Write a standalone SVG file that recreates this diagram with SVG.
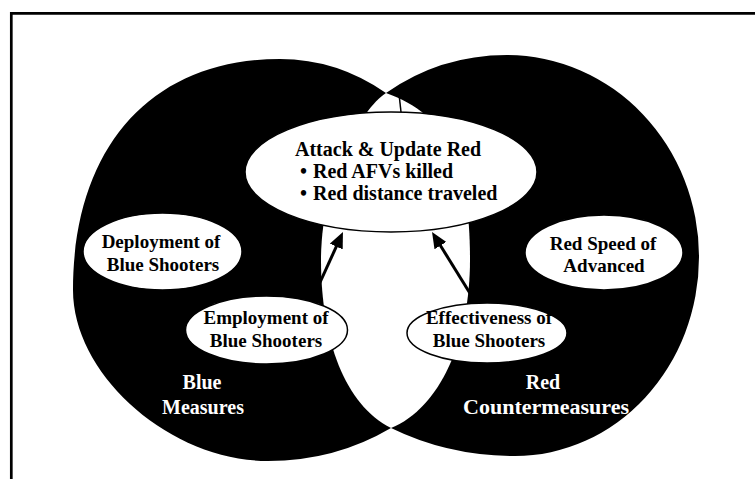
<svg xmlns="http://www.w3.org/2000/svg" width="755" height="479" viewBox="0 0 755 479">
<defs>
<style>
.frame{fill:none;stroke:#000;stroke-width:2.7}
.blk{fill:#000}
.lens{fill:#fff}
.node ellipse{fill:#fff;stroke:#000;stroke-width:1.5}
text{font-family:"Liberation Serif","Times New Roman",serif;font-weight:bold}
.t{font-size:19px;fill:#000;text-anchor:middle}
.c{font-size:20px;fill:#000}
.w{font-size:20px;fill:#fff;text-anchor:middle}
.arrow{stroke:#000;stroke-width:3;fill:none;marker-end:url(#ah)}
</style>
<marker id="ah" viewBox="0 0 16 14" refX="6" refY="7" markerWidth="16" markerHeight="14" orient="auto" markerUnits="userSpaceOnUse">
<path d="M0,0 L16,7 L0,14 Z" fill="#000"/>
</marker>
</defs>
<rect width="755" height="479" fill="#fff"/>
<path class="frame" d="M11.3 479 V13.3 H755"/>
<g id="background">
<path class="blk" d="M386 93 A207 202 0 0 1 507 55 A192 202 0 0 1 699 257 A184 199 0 0 1 515 456 A242 199 0 0 1 391 428 A223 199 0 0 1 268 461 C170.5 461 73 375.5 73 290 C73 146.8 151.7 59 280 59 A203 231 0 0 1 386 93 Z"/>
<path class="lens" d="M386 93 C360 110 321 180 321 260 C321 340 345 405 391 428 C440 408 470 340 470 260 C470 170 450 115 386 93 Z"/>
<path d="M399 94 L401 112" stroke="#000" stroke-width="1.5"/>
<text class="w" x="202" y="389">Blue</text>
<text class="w" x="203" y="414">Measures</text>
<text class="w" x="543" y="389">Red</text>
<text class="w" x="546" y="414" textLength="166" lengthAdjust="spacingAndGlyphs">Countermeasures</text>
</g>
<g id="connectors">
<line class="arrow" x1="312" y1="300" x2="338.8" y2="241.1"/>
<line class="arrow" x1="476" y1="303" x2="437.3" y2="240.5"/>
</g>
<g id="attack" class="node">
<ellipse cx="391" cy="172" rx="146" ry="60"/>
<text class="c" x="295" y="156">Attack &amp; Update Red</text>
<text class="c" x="300" y="178">•</text>
<text class="c" x="313" y="178">Red AFVs killed</text>
<text class="c" x="300" y="200">•</text>
<text class="c" x="313" y="200">Red distance traveled</text>
</g>
<g id="deployment" class="node">
<ellipse cx="162.5" cy="251.5" rx="79.5" ry="38.5"/>
<text class="t" x="161" y="248">Deployment of</text>
<text class="t" x="163" y="271">Blue Shooters</text>
</g>
<g id="redspeed" class="node">
<ellipse cx="604" cy="252.5" rx="79" ry="37.5"/>
<text class="t" x="603" y="250">Red Speed of</text>
<text class="t" x="604" y="272">Advanced</text>
</g>
<g id="employment" class="node">
<ellipse cx="266.5" cy="330" rx="81" ry="34"/>
<text class="t" x="266" y="324">Employment of</text>
<text class="t" x="266" y="347">Blue Shooters</text>
</g>
<g id="effectiveness" class="node">
<ellipse cx="487" cy="333" rx="80" ry="30"/>
<text class="t" x="489" y="324">Effectiveness of</text>
<text class="t" x="489" y="347">Blue Shooters</text>
</g>
</svg>
